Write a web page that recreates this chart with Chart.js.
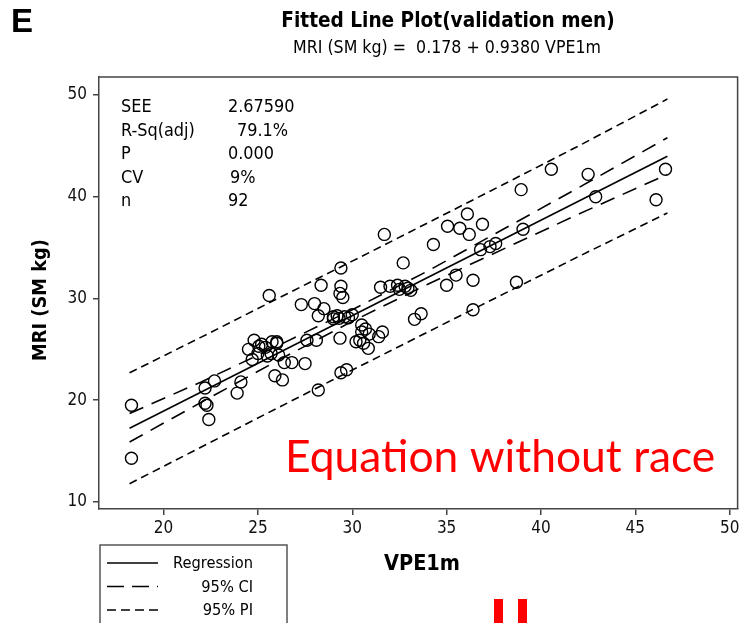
<!DOCTYPE html>
<html>
<head>
<meta charset="utf-8">
<title>Fitted Line Plot (validation men)</title>
<script src="https://cdn.jsdelivr.net/npm/chart.js@4.4.1/dist/chart.umd.min.js"></script>
<style>
    html, body { margin: 0; padding: 0; background: #fff; }
    #wrap { width: 745px; height: 623px; }
</style>
</head>
<body>
<div id="wrap"><canvas id="fitChart" width="745" height="623"></canvas></div>
<script>
// ============================================
// DATA
// ============================================

// observed points: VPE1m (x) vs MRI SM kg (y)
const vpeValues = [18.3, 18.3, 22.2, 22.7, 22.2, 22.3, 22.4, 23.9, 24.1, 24.5,
    24.8, 25.05, 24.7, 25.4, 25.75, 26.0, 25.5, 26.1, 26.4, 26.8,
    25.9, 26.3, 25.6, 25.0, 25.7, 27.5, 28.2, 27.6, 28.1, 27.3,
    28.0, 28.5, 28.2, 29.0, 29.3, 29.6, 30.0, 29.35, 29.7, 29.4,
    30.2, 31.7, 34.3, 32.7, 29.4, 28.35, 29.4, 29.35, 29.5, 31.5,
    32.0, 32.4, 32.8, 32.95, 33.1, 30.5, 30.5, 30.4, 30.6, 30.9,
    30.85, 31.4, 31.6, 33.3, 33.65, 35.05, 35.7, 36.2, 35.0, 35.5,
    36.4, 36.4, 40.55, 42.5, 46.6, 38.95, 42.9, 46.1, 36.1, 36.9,
    39.05, 36.8, 37.3, 37.6, 38.7, 29.0, 29.8, 26.0, 25.2, 29.2,
    32.5, 30.7];
const mriValues = [19.5, 14.3, 21.2, 21.9, 19.7, 19.5, 18.1, 20.7, 21.8, 25.0,
    25.9, 25.3, 24.0, 25.2, 25.75, 25.75, 24.35, 24.45, 23.7, 23.7,
    22.4, 22.0, 30.3, 24.6, 24.6, 23.6, 21.0, 25.9, 25.9, 29.4,
    29.5, 29.0, 28.3, 28.2, 28.05, 28.2, 28.4, 26.1, 23.0, 22.7,
    25.75, 36.3, 35.3, 33.5, 33.0, 31.3, 31.2, 30.5, 30.1, 31.1,
    31.2, 31.3, 31.2, 31.0, 30.8, 27.4, 26.7, 25.9, 25.6, 26.5,
    25.1, 26.25, 26.7, 27.95, 28.5, 37.1, 36.9, 36.3, 31.3, 32.3,
    31.8, 28.9, 42.7, 42.2, 42.7, 40.7, 40.0, 39.7, 38.3, 37.3,
    36.8, 34.8, 35.1, 35.4, 31.6, 28.0, 28.1, 25.6, 25.5, 28.3,
    30.9, 27.0];

// fitted regression line ends
const fitX = [18.2, 46.7];
const fitY = [17.25, 43.98];

// confidence and prediction limits
const bandX   = [18.2, 22, 26, 30, 34, 38, 42, 46.7];
const ciUpper = [18.7, 21.8, 25.3, 28.9, 32.7, 36.8, 40.9, 45.8];
const ciLower = [15.9, 19.8, 23.85, 27.75, 31.4, 34.85, 38.3, 42.2];
const piUpper = [22.7, 26.2, 29.95, 33.67, 37.43, 41.2, 45.0, 49.6];
const piLower = [11.8, 15.4, 19.2, 22.97, 26.7, 30.43, 34.13, 38.4];

const xTicks = [20, 25, 30, 35, 40, 45, 50];
const yTicks = [10, 20, 30, 40, 50];

const statLabels = ['SEE', 'R-Sq(adj)', 'P', 'CV', 'n'];
const statValues = ['2.67590', '79.1%', '0.000', '9%', '92'];
const legendLabels = ['Regression', '95% CI', '95% PI'];

const TAHOMA = '"DejaVu Sans Condensed", "DejaVu Sans", sans-serif';

/**
 * Build {x, y} pairs from two arrays
 */
function pairs(xs, ys) {
    return xs.map((x, i) => ({ x: x, y: ys[i] }));
}

/**
 * Font size that makes text exactly `width` px wide
 */
function fitFont(ctx, text, width, weight, family) {
    ctx.font = `${weight} 100px ${family}`;
    const size = 100 * width / ctx.measureText(text).width;
    return `${weight} ${size.toFixed(1)}px ${family}`;
}

// ============================================
// DECORATIONS (titles, stats box, legend, notes)
// ============================================
const decorPlugin = {
    id: 'decor',
    beforeDraw(chart) {
        const ctx = chart.ctx;
        ctx.save();
        ctx.fillStyle = '#fff';
        ctx.fillRect(0, 0, chart.width, chart.height);
        ctx.restore();
    },
    afterDraw(chart) {
        const ctx = chart.ctx;
        const area = chart.chartArea;
        ctx.save();

        // top and right sides of the frame
        ctx.strokeStyle = '#444';
        ctx.lineWidth = 1.5;
        ctx.beginPath();
        ctx.moveTo(area.left, area.top);
        ctx.lineTo(area.right, area.top);
        ctx.lineTo(area.right, area.bottom);
        ctx.stroke();

        ctx.fillStyle = '#000';
        ctx.textBaseline = 'alphabetic';

        // panel letter
        ctx.textAlign = 'left';
        ctx.font = 'bold 33px "Liberation Sans", Arial, sans-serif';
        ctx.fillText('E', 11, 32);

        // title + equation
        const title = 'Fitted Line Plot(validation men)';
        ctx.font = fitFont(ctx, title, 334, 'bold', TAHOMA);
        ctx.textAlign = 'center';
        ctx.fillText(title, 448, 27);
        const eq = 'MRI (SM kg) =  0.178 + 0.9380 VPE1m';
        ctx.font = fitFont(ctx, eq, 308, 'normal', TAHOMA);
        ctx.fillText(eq, 447, 53);

        // stats block
        ctx.textAlign = 'left';
        ctx.font = fitFont(ctx, 'R-Sq(adj)', 74, 'normal', TAHOMA);
        const valueX = [228, 237, 228, 230, 228];
        statLabels.forEach((label, i) => {
            const y = 112 + i * 23.5;
            ctx.fillText(label, 121, y);
            ctx.fillText(statValues[i], valueX[i], y);
        });

        // axis titles
        ctx.textAlign = 'center';
        ctx.font = fitFont(ctx, 'VPE1m', 76, 'bold', TAHOMA);
        ctx.fillText('VPE1m', 422, 570);
        ctx.save();
        ctx.translate(46, 300);
        ctx.rotate(-Math.PI / 2);
        ctx.font = fitFont(ctx, 'MRI (SM kg)', 122, 'bold', TAHOMA);
        ctx.fillText('MRI (SM kg)', 0, 0);
        ctx.restore();

        // legend box
        ctx.strokeStyle = '#555';
        ctx.lineWidth = 1.5;
        ctx.strokeRect(100, 545, 187, 100);
        const dashes = [[], [17, 8], [9, 5]];
        ctx.font = fitFont(ctx, 'Regression', 80, 'normal', TAHOMA);
        ctx.textAlign = 'right';
        legendLabels.forEach((label, i) => {
            const y = 563 + i * 23.5;
            ctx.strokeStyle = '#000';
            ctx.setLineDash(dashes[i]);
            ctx.beginPath();
            ctx.moveTo(107, y);
            ctx.lineTo(158, y);
            ctx.stroke();
            ctx.setLineDash([]);
            ctx.fillText(label, 253, y + 5);
        });

        // red note
        const note = 'Equation without race';
        ctx.fillStyle = '#ff0000';
        ctx.textAlign = 'left';
        ctx.font = fitFont(ctx, note, 430, 'normal', 'Lato, "Open Sans", sans-serif');
        ctx.fillText(note, 285, 472);
        ctx.fillRect(494, 599, 9, 24);
        ctx.fillRect(518, 599, 9, 24);

        ctx.restore();
    }
};

// ============================================
// CHART
// ============================================
function buildChart() {
    const lineStyle = (data, dash) => ({
        data: data,
        showLine: true,
        borderColor: '#000',
        borderWidth: 1.6,
        borderDash: dash,
        pointRadius: 0,
        fill: false,
        tension: 0
    });

    const tickGrid = {
        drawOnChartArea: false,
        drawTicks: true,
        tickLength: 6,
        color: '#444',
        lineWidth: 1.5
    };

    new Chart(document.getElementById('fitChart'), {
        type: 'scatter',
        data: {
            datasets: [
                {
                    label: 'Observed',
                    data: pairs(vpeValues, mriValues),
                    pointStyle: 'circle',
                    pointRadius: 6,
                    pointBorderWidth: 1.4,
                    pointBackgroundColor: 'rgba(0,0,0,0)',
                    pointBorderColor: '#000'
                },
                lineStyle(pairs(fitX, fitY), []),
                lineStyle(pairs(bandX, ciUpper), [15, 9]),
                lineStyle(pairs(bandX, ciLower), [15, 9]),
                lineStyle(pairs(bandX, piUpper), [8, 5]),
                lineStyle(pairs(bandX, piLower), [8, 5])
            ]
        },
        options: {
            responsive: false,
            devicePixelRatio: 1,
            animation: false,
            layout: { padding: { top: 77, right: 3, left: 0, bottom: 0 } },
            plugins: {
                legend: { display: false },
                tooltip: { enabled: false }
            },
            scales: {
                x: {
                    type: 'linear',
                    min: 16.58,
                    max: 50.42,
                    afterBuildTicks: s => { s.ticks = xTicks.map(v => ({ value: v })); },
                    afterFit: s => { s.height = 114; },
                    ticks: {
                        color: '#111',
                        padding: 3,
                        font: { size: 17, family: TAHOMA }
                    },
                    grid: tickGrid,
                    border: { display: true, color: '#444', width: 1.5 }
                },
                y: {
                    type: 'linear',
                    min: 9.31,
                    max: 51.77,
                    afterBuildTicks: s => { s.ticks = yTicks.map(v => ({ value: v })); },
                    afterFit: s => { s.width = 99; },
                    ticks: {
                        color: '#111',
                        padding: 6,
                        font: { size: 17, family: TAHOMA }
                    },
                    grid: tickGrid,
                    border: { display: true, color: '#444', width: 1.5 }
                }
            }
        },
        plugins: [decorPlugin]
    });
}

document.addEventListener('DOMContentLoaded', buildChart);
</script>
</body>
</html>
